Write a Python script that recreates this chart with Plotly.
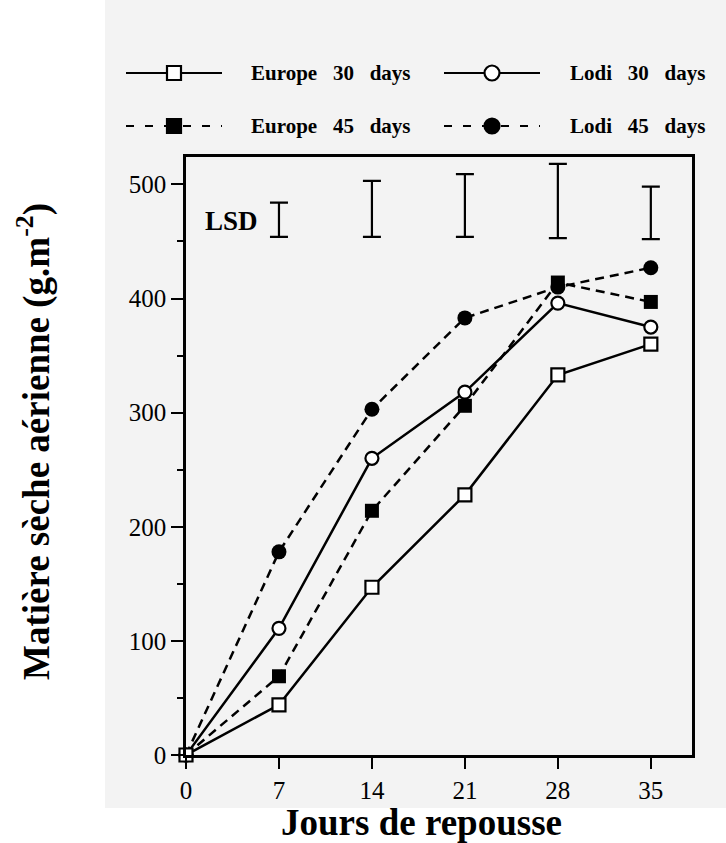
import plotly.graph_objects as go

# ---------------- data ----------------
days = [0, 7, 14, 21, 28, 35]
europe_30 = [0, 44, 147, 228, 333, 360]
lodi_30 = [0, 111, 260, 318, 396, 375]
europe_45 = [0, 69, 214, 306, 414, 397]
lodi_45 = [0, 178, 303, 383, 410, 427]

lsd_days = [7, 14, 21, 28, 35]
lsd_bottom = [454, 454, 454, 453, 452]
lsd_top = [484, 503, 509, 518, 498]

x_ticks = [0, 7, 14, 21, 28, 35]
y_ticks = [0, 100, 200, 300, 400, 500]

series_names = ["Europe 30 days", "Lodi 30 days", "Europe 45 days", "Lodi 45 days"]

# ---------------- layout constants ----------------
W, H = 726, 843
ML, MR, MT, MB = 186, 34, 157, 88
PW = W - ML - MR
PH = H - MT - MB
FONT = "Liberation Serif"
BG = "#f3f3f3"


def px2x(px):
    return (px - ML) / PW


def py2y(py):
    return (MT + PH - py) / PH


fig = go.Figure()

line_w = 2.5
dash = "9px,6px"

# draw order: filled first, open on top
fig.add_trace(go.Scatter(
    x=days, y=lodi_45, mode="lines+markers", name=series_names[3],
    line=dict(color="black", width=line_w, dash=dash),
    marker=dict(symbol="circle", size=15, color="black"),
    cliponaxis=False, showlegend=False))
fig.add_trace(go.Scatter(
    x=days, y=europe_45, mode="lines+markers", name=series_names[2],
    line=dict(color="black", width=line_w, dash=dash),
    marker=dict(symbol="square", size=14, color="black"),
    cliponaxis=False, showlegend=False))
fig.add_trace(go.Scatter(
    x=days, y=lodi_30, mode="lines+markers", name=series_names[1],
    line=dict(color="black", width=line_w),
    marker=dict(symbol="circle", size=13, color="white",
                line=dict(color="black", width=2.2)),
    cliponaxis=False, showlegend=False))
fig.add_trace(go.Scatter(
    x=days, y=europe_30, mode="lines+markers", name=series_names[0],
    line=dict(color="black", width=line_w),
    marker=dict(symbol="square", size=13, color="white",
                line=dict(color="black", width=2.2)),
    cliponaxis=False, showlegend=False))

# LSD bars
lsd_mid = [(a + b) / 2 for a, b in zip(lsd_bottom, lsd_top)]
fig.add_trace(go.Scatter(
    x=lsd_days, y=lsd_mid, mode="markers",
    marker=dict(size=1, color="rgba(0,0,0,0)"),
    error_y=dict(type="data", symmetric=False,
                 array=[t - m for t, m in zip(lsd_top, lsd_mid)],
                 arrayminus=[m - b for m, b in zip(lsd_mid, lsd_bottom)],
                 color="black", thickness=2.2, width=9),
    showlegend=False, hoverinfo="skip"))

shapes = []
# scanned-page grey background
shapes.append(dict(type="rect", xref="paper", yref="paper", layer="below",
                   x0=px2x(105), x1=px2x(W + 5), y0=py2y(808), y1=py2y(-5),
                   line=dict(width=0), fillcolor=BG))

annotations = []

# custom legend
legend_rows = [73, 126]
legend_cols = [(126, 222, 249), (444, 540, 568)]
legend_items = [
    (0, 0, "solid", "square", False, series_names[0]),
    (0, 1, "solid", "circle", False, series_names[1]),
    (1, 0, "8px,11px", "square", True, series_names[2]),
    (1, 1, "8px,11px", "circle", True, series_names[3]),
]
for row, col, dsh, sym, filled, label in legend_items:
    yy = legend_rows[row]
    x0, x1, xt = legend_cols[col]
    shapes.append(dict(type="line", xref="paper", yref="paper",
                       x0=px2x(x0), x1=px2x(x1), y0=py2y(yy), y1=py2y(yy),
                       line=dict(color="black", width=2.2, dash=dsh)))
    xc = px2x((x0 + x1) / 2)
    yc = py2y(yy)
    s = 7 if sym == "square" else 7.5
    shapes.append(dict(type="rect" if sym == "square" else "circle",
                       xref="paper", yref="paper",
                       xsizemode="pixel", ysizemode="pixel",
                       xanchor=xc, yanchor=yc,
                       x0=-s, x1=s, y0=-s, y1=s,
                       line=dict(color="black", width=2.2),
                       fillcolor="black" if filled else "white"))
    annotations.append(dict(
        xref="paper", yref="paper", x=px2x(xt), y=yc,
        xanchor="left", yanchor="middle", showarrow=False,
        text=label.replace(" ", "\u00a0\u00a0\u00a0"),
        font=dict(family=FONT, size=21, color="black", weight="bold")))

# LSD label
annotations.append(dict(
    xref="paper", yref="paper", x=px2x(231), y=py2y(221),
    xanchor="center", yanchor="middle", showarrow=False, text="LSD",
    font=dict(family=FONT, size=27, color="black", weight="bold")))

# axis titles
annotations.append(dict(
    xref="paper", yref="paper", x=px2x(421), y=py2y(822),
    xanchor="center", yanchor="middle", showarrow=False,
    text="Jours de repousse",
    font=dict(family=FONT, size=37, color="black", weight="bold")))
annotations.append(dict(
    xref="paper", yref="paper", x=px2x(34), y=py2y(442),
    xanchor="center", yanchor="middle", showarrow=False, textangle=-90,
    text="Matière sèche aérienne (g.m<sup>-2</sup>)",
    font=dict(family=FONT, size=37, color="black", weight="bold")))

fig.update_layout(
    width=W, height=H,
    margin=dict(l=ML, r=MR, t=MT, b=MB, pad=0),
    paper_bgcolor="white", plot_bgcolor=BG,
    shapes=shapes, annotations=annotations,
    showlegend=False,
    xaxis=dict(range=[0, 38.1], tickmode="array", tickvals=x_ticks,
               ticks="outside", ticklen=11, tickwidth=2.2, tickcolor="black",
               showline=True, linecolor="black", linewidth=2.6, mirror=True,
               showgrid=False, zeroline=False,
               tickfont=dict(family=FONT, size=25, color="black")),
    yaxis=dict(range=[0, 524], tickmode="array", tickvals=y_ticks,
               ticks="outside", ticklen=12, tickwidth=2.2, tickcolor="black",
               minor=dict(dtick=50, ticks="outside", ticklen=6, tickwidth=2,
                          tickcolor="black"),
               showline=True, linecolor="black", linewidth=2.6, mirror=True,
               showgrid=False, zeroline=False,
               tickfont=dict(family=FONT, size=25, color="black")),
)

fig.write_html("out.html")
